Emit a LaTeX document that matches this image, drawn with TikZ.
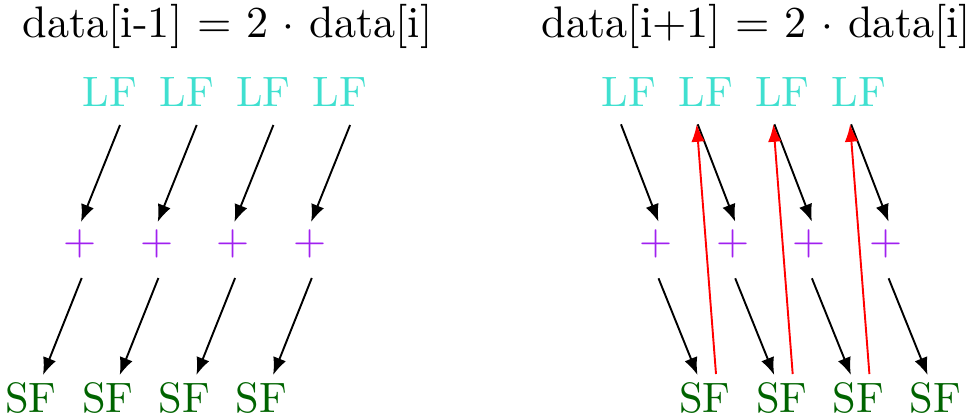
\documentclass[tikz,border=0pt]{standalone}
\usepackage{fontspec}
\usetikzlibrary{arrows.meta,calc}
\definecolor{lfcol}{RGB}{64,224,208}
\definecolor{pluscol}{RGB}{160,32,240}
\definecolor{sfcol}{RGB}{0,100,0}
\begin{document}
\begin{tikzpicture}[x=0.23529pt,y=-0.23529pt,
  lab/.style={inner sep=0pt,anchor=base},
  ttl/.style={lab,font=\fontsize{10.4}{12.5}\selectfont},
  lf/.style={lab,text=lfcol},
  pl/.style={lab,text=pluscol},
  sf/.style={lab,text=sfcol},
  blk/.style={-{Latex[length=4.1pt,width=3.2pt]},line width=0.45pt,draw=black},
  rd/.style={-{Latex[length=4.1pt,width=3.2pt]},line width=0.45pt,draw=red,fill=red}]
\useasboundingbox (0,0) rectangle (979,419);
% titles
\node[ttl] (t1) at (227.5,37) {data[i-1] = 2 $\cdot$ data[i]};
\node[ttl] (t2) at (756.5,37) {data[i+1] = 2 $\cdot$ data[i]};
% left diagram
\foreach \k in {0,...,3}{
  \node[lf] (L\k) at ({110+76.7*\k},106) {LF};
  \node[pl] (P\k) at ({80+76.7*\k},254) {+};
  \node[sf] (S\k) at ({31+76.7*\k},412) {SF};
  \draw[blk] ($(L\k.base)+(10,19)$) -- ($(P\k.base)+(1,-32)$);
  \draw[blk] ($(P\k.base)+(1.7,24)$) -- ($(S\k.base)+(12,-37)$);
}
% right diagram
\foreach \k in {0,...,3}{
  \node[lf] (RL\k) at ({629+76.7*\k},106) {LF};
  \node[pl] (RP\k) at ({656+76.7*\k},254) {+};
  \node[sf] (RS\k) at ({705+76.7*\k},412) {SF};
  \draw[blk] ($(RL\k.base)+(-8,18.3)$) -- ($(RP\k.base)+(2.5,-32.3)$);
  \draw[blk] ($(RP\k.base)+(2.5,24.3)$) -- ($(RS\k.base)+(-7.5,-37)$);
}
\foreach \k/\j in {0/1,1/2,2/3}{
  \draw[rd] ($(RS\k.base)+(11,-38)$) -- ($(RL\j.base)+(-9,18.3)$);
}
\end{tikzpicture}
\end{document}
